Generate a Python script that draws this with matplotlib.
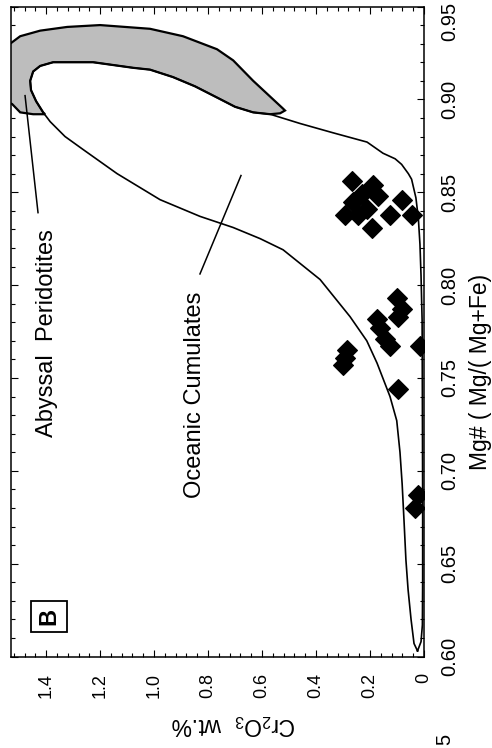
import matplotlib
matplotlib.use('Agg')
import matplotlib.pyplot as plt
from matplotlib.ticker import MultipleLocator
from matplotlib.transforms import ScaledTranslation

plt.rcParams['font.family'] = ['Liberation Sans', 'DejaVu Sans']
plt.rcParams['mathtext.fontset'] = 'custom'
plt.rcParams['mathtext.rm'] = 'Liberation Sans'
plt.rcParams['mathtext.default'] = 'regular'

# samples (Cr2O3 wt.% , Mg#)
cr2o3 = [0.268, 0.188, 0.169, 0.262, 0.212, 0.293, 0.243, 0.194, 0.126, 0.083, 0.046, 0.230,
         0.101, 0.095, 0.175, 0.163, 0.144, 0.126, 0.015, 0.286, 0.293, 0.299, 0.095, 0.083,
         0.021, 0.033]
mg_num = [0.856, 0.854, 0.848, 0.845, 0.841, 0.838, 0.838, 0.831, 0.838, 0.846, 0.838, 0.849,
          0.793, 0.783, 0.782, 0.777, 0.771, 0.767, 0.767, 0.765, 0.761, 0.757, 0.744, 0.787,
          0.687, 0.680]

# oceanic cumulates field outline
cum_cr = [0.024, 0.011, 0.006, 0.005, 0.005, 0.006, 0.007, 0.011, 0.015, 0.021, 0.030, 0.046,
          0.058, 0.083, 0.107, 0.152, 0.211, 0.337, 0.459, 0.570, 0.633, 0.700, 0.767, 0.848,
          0.930, 1.015, 1.078, 1.226, 1.374, 1.422, 1.448, 1.459, 1.456, 1.437, 1.411, 1.385,
          1.330, 1.263, 1.137, 0.978, 0.830, 0.707, 0.607, 0.522, 0.385, 0.274, 0.212, 0.174,
          0.126, 0.101, 0.089, 0.081, 0.074, 0.067, 0.059, 0.048, 0.037, 0.024]
cum_mg = [0.603, 0.608, 0.617, 0.641, 0.684, 0.738, 0.781, 0.805, 0.822, 0.836, 0.847, 0.857,
          0.860, 0.865, 0.868, 0.871, 0.877, 0.882, 0.887, 0.892, 0.893, 0.896, 0.901, 0.907,
          0.912, 0.916, 0.917, 0.920, 0.920, 0.918, 0.915, 0.910, 0.905, 0.899, 0.893, 0.888,
          0.880, 0.873, 0.860, 0.846, 0.837, 0.831, 0.825, 0.819, 0.803, 0.783, 0.770, 0.758,
          0.740, 0.727, 0.710, 0.693, 0.673, 0.652, 0.636, 0.620, 0.607, 0.603]

# abyssal peridotites field
aby_cr = [1.57, 1.533, 1.496, 1.422, 1.322, 1.2, 1.015, 0.893, 0.767, 0.707, 0.633, 0.559,
          0.522, 0.515, 0.533, 0.570, 0.633, 0.700, 0.767, 0.848, 0.930, 1.015, 1.078, 1.226,
          1.374, 1.422, 1.448, 1.459, 1.456, 1.437, 1.411, 1.404, 1.448, 1.496, 1.526, 1.57]
aby_mg = [0.926, 0.930, 0.934, 0.937, 0.939, 0.940, 0.938, 0.934, 0.927, 0.921, 0.910, 0.900,
          0.895, 0.894, 0.8925, 0.892, 0.893, 0.896, 0.901, 0.907, 0.912, 0.916, 0.917, 0.920,
          0.920, 0.918, 0.915, 0.910, 0.905, 0.899, 0.893, 0.892, 0.892, 0.893, 0.8975, 0.900]

x_ticks = [0, 0.2, 0.4, 0.6, 0.8, 1.0, 1.2, 1.4]
x_ticklabels = ['0', '0.2', '0.4', '0.6', '0.8', '1.0', '1.2', '1.4']
y_ticks = [0.60, 0.65, 0.70, 0.75, 0.80, 0.85, 0.90, 0.95]
y_ticklabels = ['0.60', '0.65', '0.70', '0.75', '0.80', '0.85', '0.90', '0.95']

fig = plt.figure(figsize=(4.92, 7.48), dpi=100)
ax = fig.add_axes([0.0224, 0.1223, 0.8394, 0.869])

ax.fill(aby_cr, aby_mg, facecolor='#bdbdbd', edgecolor='black', lw=1.6, zorder=2)
ax.plot(cum_cr, cum_mg, color='black', lw=1.2, zorder=3)
ax.plot(cr2o3, mg_num, linestyle='none', marker='D', markersize=10.3,
        color='black', markeredgewidth=0.8, zorder=4)

# leader lines for field labels
ax.plot([1.430, 1.478], [0.839, 0.902], color='black', lw=1.1, zorder=3)
ax.plot([0.830, 0.678], [0.806, 0.859], color='black', lw=1.1, zorder=3)
ax.text(1.396, 0.774, 'Abyssal  Peridotites', rotation=90, fontsize=17,
        ha='center', va='center')
ax.text(0.848, 0.741, 'Oceanic Cumulates', rotation=90, fontsize=17,
        ha='center', va='center')

ax.text(0.092, 0.0615, 'B', transform=ax.transAxes, rotation=90, fontsize=17,
        fontweight='bold', ha='center', va='center',
        bbox=dict(boxstyle='square,pad=0.28', fc='white', ec='black', lw=1.3))

ax.set_xlim(1.53, 0)
ax.set_ylim(0.60, 0.95)
ax.set_xticks(x_ticks)
ax.set_xticklabels(x_ticklabels, rotation=90, fontsize=13)
ax.set_yticks(y_ticks)
ax.set_yticklabels(y_ticklabels, rotation=90, fontsize=14.5, va='center')
ax.xaxis.set_minor_locator(MultipleLocator(0.04))
ax.yaxis.set_minor_locator(MultipleLocator(0.01))
ax.tick_params(which='both', direction='in', top=True, bottom=True, left=True, right=True,
               labelleft=False, labelright=True, width=0.8)
ax.tick_params(which='major', length=5)
ax.tick_params(which='minor', length=3)
ax.tick_params(axis='x', pad=12)
ax.tick_params(axis='y', pad=12)

# top label pushed down inside the page
top_lab = ax.get_yticklabels()[-1]
top_lab.set_transform(top_lab.get_transform() + ScaledTranslation(0, -0.15, fig.dpi_scale_trans))

for s in ax.spines.values():
    s.set_linewidth(1.1)

ax.set_xlabel('Cr$_2$O$_3$  wt.%', fontsize=16.5, rotation=180, ha='center', va='center')
ax.xaxis.set_label_coords(0.5375, -0.105)
ax.yaxis.set_label_position('right')
ax.set_ylabel('Mg# ( Mg/( Mg+Fe)', fontsize=16.5, rotation=90, ha='center', va='center')
ax.yaxis.set_label_coords(1.1356, 0.4385)

# fragment of page text at the bottom edge
fig.text(445 / 492, 1 - 734 / 748, '5', rotation=90, fontsize=14.5, ha='center', va='top')

fig.savefig('out.png', dpi=100)
